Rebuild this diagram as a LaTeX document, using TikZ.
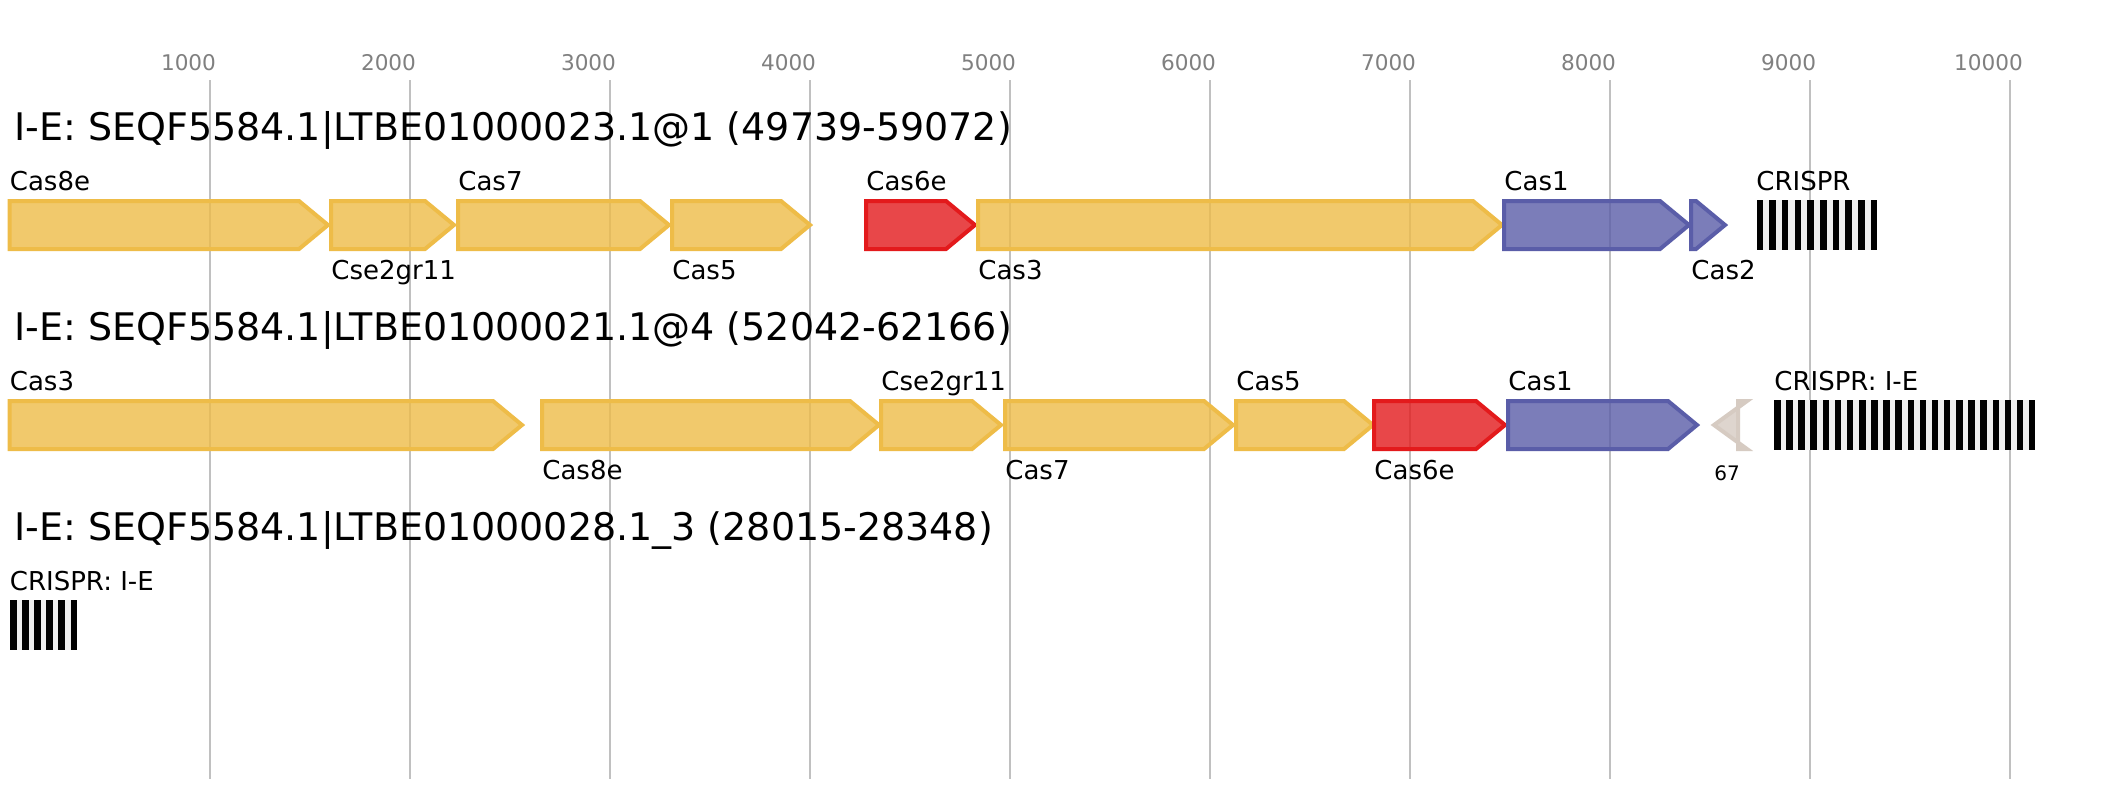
\documentclass[tikz,border=0pt]{standalone}
\usepackage{fontspec}
\setmainfont{DejaVu Sans}
\definecolor{yelS}{HTML}{EEBC48}
\definecolor{redS}{HTML}{E31A1C}
\definecolor{bluS}{HTML}{5A5DA8}
\definecolor{grayS}{HTML}{D6CBC2}
\definecolor{gridc}{HTML}{C0C0C0}
\definecolor{tickc}{HTML}{808080}
\definecolor{spc}{HTML}{EEEEEE}
\tikzset{
  genebase/.style={line width=2pt, line join=miter},
  yel/.style={genebase, draw=yelS, fill=yelS, fill opacity=0.8},
  redg/.style={genebase, draw=redS, fill=redS, fill opacity=0.8},
  blug/.style={genebase, draw=bluS, fill=bluS, fill opacity=0.8},
  grayg/.style={genebase, draw=grayS, fill=grayS, fill opacity=0.8},
  gridl/.style={draw=gridc, line width=1pt},
  ticklab/.style={font=\fontsize{10.8}{12}\selectfont, text=tickc, inner sep=0pt, anchor=base},
  titlelab/.style={font=\fontsize{19}{22}\selectfont, inner sep=0pt, anchor=base west},
  genelab/.style={font=\fontsize{13}{15}\selectfont, inner sep=0pt, anchor=base west},
  smalllab/.style={font=\fontsize{10}{11}\selectfont, inner sep=0pt, anchor=base west},
}
% forward gene: start, end, top, style
\newcommand{\fgene}[4]{\draw[#4] (#1,#3) -- ({#2-31},#3) -- ({#2-2},{#3+24}) -- ({#2-31},{#3+48}) -- (#1,{#3+48}) -- cycle;}
% crispr array: start, pitch, count, top
\newcommand{\crisprarr}[4]{%
  \fill[spc] (#1,{#4-1}) rectangle ({#1+(#3-1)*#2+6.5},{#4+49});
  \foreach \i in {1,...,#3} {\fill[black] ({#1+(\i-1)*#2},{#4-1}) rectangle ({#1+(\i-1)*#2+6.5},{#4+49});}
}
\begin{document}
\begin{tikzpicture}[x=0.5pt,y=-0.5pt]
\useasboundingbox (0,0) rectangle (2125,800);
\fill[white] (0,0) rectangle (2125,800);
% grid and scale
\foreach \k in {1,...,10} {
  \draw[gridl] ({10+200*\k},80) -- ({10+200*\k},779);
  \node[ticklab] (tick\k) at ({10+200*\k-21.5},70) {\k000};
}
% titles
\node[titlelab] (title1) at (14,140) {I-E: SEQF5584.1|LTBE01000023.1@1 (49739-59072)};
\node[titlelab] (title2) at (14,340) {I-E: SEQF5584.1|LTBE01000021.1@4 (52042-62166)};
\node[titlelab] (title3) at (14,540) {I-E: SEQF5584.1|LTBE01000028.1\_3 (28015-28348)};
% row 1
\fgene{9.5}{330}{201}{yel}
\fgene{331}{456}{201}{yel}
\fgene{458}{671}{201}{yel}
\fgene{672}{812}{201}{yel}
\fgene{866}{977}{201}{redg}
\fgene{978}{1504}{201}{yel}
\fgene{1504}{1691}{201}{blug}
\fgene{1691}{1727}{201}{blug}
\crisprarr{1756.5}{12.7}{10}{201}
\node[genelab] (r1a) at (9.5,190) {Cas8e};
\node[genelab] (r1b) at (331,279) {Cse2gr11};
\node[genelab] (r1c) at (458,190) {Cas7};
\node[genelab] (r1d) at (672,279) {Cas5};
\node[genelab] (r1e) at (866,190) {Cas6e};
\node[genelab] (r1f) at (978,279) {Cas3};
\node[genelab] (r1g) at (1504,190) {Cas1};
\node[genelab] (r1h) at (1691,279) {Cas2};
\node[genelab] (r1i) at (1756,190) {CRISPR};
% row 2
\fgene{9.5}{524}{401}{yel}
\fgene{542}{881}{401}{yel}
\fgene{881}{1003}{401}{yel}
\fgene{1005}{1235}{401}{yel}
\fgene{1236}{1375}{401}{yel}
\fgene{1374}{1507}{401}{redg}
\fgene{1508}{1699}{401}{blug}
\draw[grayg] (1738,401) -- (1747,401) -- (1714,425) -- (1747,449) -- (1738,449) -- cycle;
\crisprarr{1774}{12.14}{22}{401}
\node[genelab] (r2a) at (9.5,390) {Cas3};
\node[genelab] (r2b) at (542,479) {Cas8e};
\node[genelab] (r2c) at (881,390) {Cse2gr11};
\node[genelab] (r2d) at (1005,479) {Cas7};
\node[genelab] (r2e) at (1236,390) {Cas5};
\node[genelab] (r2f) at (1374,479) {Cas6e};
\node[genelab] (r2g) at (1508,390) {Cas1};
\node[smalllab] (r2h) at (1714,480) {67};
\node[genelab] (r2i) at (1774,390) {CRISPR: I-E};
% row 3
\crisprarr{10}{12.1}{6}{601}
\node[genelab] (r3a) at (9.5,590) {CRISPR: I-E};
\end{tikzpicture}
\end{document}
